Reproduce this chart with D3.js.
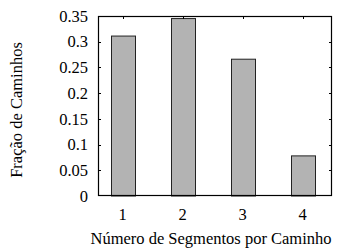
<!DOCTYPE html>
<html><head><meta charset="utf-8">
<script src="https://cdn.jsdelivr.net/npm/d3@7"></script>
<style>body{margin:0;background:#fff}svg{display:block}</style>
</head><body>
<svg id="c" width="345" height="248" font-family="'Liberation Serif', serif"></svg>
<script>
const categories = [1, 2, 3, 4];
const values = [0.311, 0.345, 0.266, 0.078];
const yTicks = [0, 0.05, 0.1, 0.15, 0.2, 0.25, 0.3, 0.35];
const yTickLabels = ["0", "0.05", "0.1", "0.15", "0.2", "0.25", "0.3", "0.35"];
const xLabel = "Número de Segmentos por Caminho";
const yLabel = "Fração de Caminhos";

const FF = "Liberation Serif";
const FS = 16.5;
const svg = d3.select("#c");
const L = 98, R = 332, T = 16, B = 196;
const x = d3.scaleLinear().domain([0.59, 4.49]).range([L, R]);
const y = d3.scaleLinear().domain([0, 0.35]).range([B, T]);
const bw = x(1.2) - x(0.8);

svg.selectAll("rect.bar").data(categories).enter().append("rect")
  .attr("class", "bar")
  .attr("x", (d) => Math.round(x(d) - bw / 2) + 0.5)
  .attr("y", (d, i) => y(values[i]))
  .attr("width", Math.round(bw))
  .attr("height", (d, i) => B - y(values[i]))
  .attr("fill", "#b3b3b3").attr("stroke", "#222").attr("stroke-width", 1);

const g = svg.append("g");
yTicks.forEach((t, i) => {
  const yy = Math.round(y(t)) + 0.5;
  if (i > 0 && i < yTicks.length - 1) {
    g.append("line").attr("x1", L).attr("x2", L + 3).attr("y1", yy).attr("y2", yy).attr("stroke", "#000");
    g.append("line").attr("x1", R - 3).attr("x2", R).attr("y1", yy).attr("y2", yy).attr("stroke", "#000");
  }
  g.append("text").attr("x", 88).attr("y", y(t)).attr("dy", "0.35em")
    .attr("font-family", FF).attr("text-anchor", "end").attr("font-size", FS).text(yTickLabels[i]);
});
categories.forEach((c) => {
  const xx = Math.round(x(c)) + 0.5;
  g.append("line").attr("x1", xx).attr("x2", xx).attr("y1", T).attr("y2", T + 3).attr("stroke", "#000");
  g.append("text").attr("x", x(c)).attr("y", 220).attr("font-family", FF)
    .attr("text-anchor", "middle").attr("font-size", FS).text(c);
});
svg.append("rect").attr("x", L + 0.5).attr("y", T + 0.5).attr("width", R - L - 1).attr("height", B - T - 1)
  .attr("fill", "none").attr("stroke", "#000").attr("stroke-width", 1.2);

svg.append("text").attr("x", 211).attr("y", 244).attr("font-family", FF)
  .attr("text-anchor", "middle").attr("font-size", FS).text(xLabel);
svg.append("text").attr("transform", "translate(22,110) rotate(-90)")
  .attr("font-family", FF).attr("text-anchor", "middle").attr("font-size", FS).text(yLabel);
</script>
</body></html>
